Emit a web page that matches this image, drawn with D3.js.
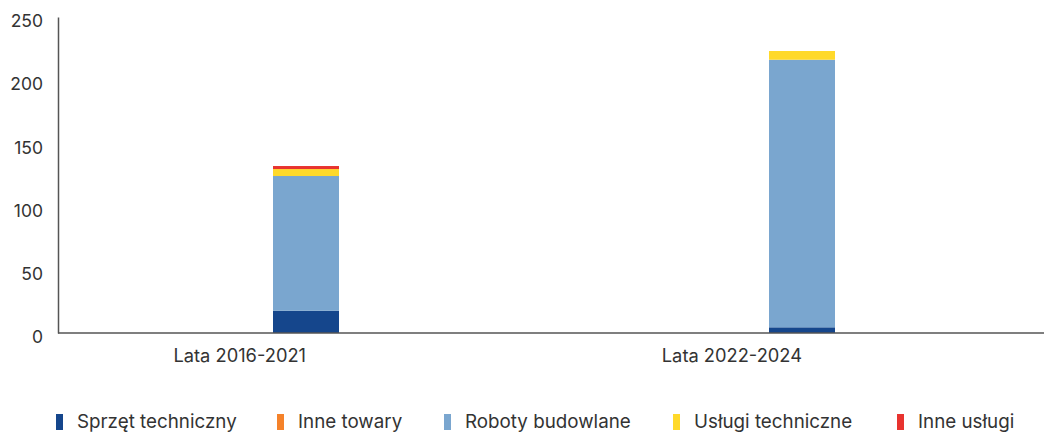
<!DOCTYPE html>
<html>
<head>
<meta charset="utf-8">
<script src="https://cdn.jsdelivr.net/npm/d3@7"></script>
<style>
  html, body { margin: 0; padding: 0; background: #fff; }
  svg { display: block; font-family: Inter, "Open Sans", sans-serif; }
</style>
</head>
<body>
<svg id="chart" width="1045" height="433"></svg>
<script>
// Categories (periods) and stacked series
const categories = ["Lata 2016-2021", "Lata 2022-2024"];
const seriesNames = ["Sprzęt techniczny", "Inne towary", "Roboty budowlane", "Usługi techniczne", "Inne usługi"];
const sprzetTechniczny = [17.6, 4.5];
const inneTowary = [0, 0];
const robotyBudowlane = [106.6, 211.7];
const uslugiTechniczne = [5.5, 6.9];
const inneUslugi = [2.4, 0];
const yTicks = [0, 50, 100, 150, 200, 250];
const colors = ["#15468c", "#f5822a", "#7aa6cf", "#ffd92a", "#e8332f"];

const values = [sprzetTechniczny, inneTowary, robotyBudowlane, uslugiTechniczne, inneUslugi];
const rows = categories.map((c, i) => {
  const r = { category: c };
  seriesNames.forEach((s, k) => r[s] = values[k][i]);
  return r;
});
const stacked = d3.stack().keys(seriesNames)(rows);

const svg = d3.select("#chart");
const plot = { left: 58, right: 1044, top: 17, bottom: 333 };

// Category bands span a little past the visible baseline on the right
const x = d3.scaleBand().domain(categories).range([plot.left, 1050]).paddingInner(0).paddingOuter(0);
const y = d3.scaleLinear().domain([0, 250]).range([plot.bottom, plot.top]);
const barW = 66;

// Bars
svg.append("g").selectAll("g")
  .data(stacked)
  .join("g")
  .attr("fill", (d, i) => colors[i])
  .selectAll("rect")
  .data(d => d)
  .join("rect")
  .attr("x", d => x(d.data.category) + x.bandwidth() / 2 - barW / 2)
  .attr("width", barW)
  .attr("y", d => y(d[1]))
  .attr("height", d => Math.max(0, y(d[0]) - y(d[1])));

// Y axis: line plus labels, no tick marks
const yAxis = d3.axisLeft(y).tickValues(yTicks).tickSize(0).tickPadding(15);
const gy = svg.append("g").attr("transform", `translate(${plot.left},0)`).call(yAxis);
gy.select(".domain").attr("stroke", "#555").attr("stroke-width", 1.5);
gy.selectAll("text")
  .attr("font-size", 17.5)
  .attr("fill", "#333")
  .attr("font-family", "Inter, sans-serif")
  .attr("dy", null).attr("y", 5).attr("dominant-baseline", "middle");

// X axis baseline
svg.append("line")
  .attr("x1", plot.left).attr("x2", plot.right)
  .attr("y1", plot.bottom).attr("y2", plot.bottom)
  .attr("stroke", "#555").attr("stroke-width", 1.5);

// Category labels, right-aligned at band centre
svg.append("g").selectAll("text")
  .data(categories)
  .join("text")
  .attr("x", d => x(d) + x.bandwidth() / 2)
  .attr("y", 362)
  .attr("text-anchor", "end")
  .attr("font-size", 18.3)
  .attr("fill", "#333")
  .text(d => d);

// Legend
const legendX = [56, 277, 444, 673, 897];
const legend = svg.append("g").selectAll("g")
  .data(seriesNames)
  .join("g")
  .attr("transform", (d, i) => `translate(${legendX[i]},414)`);
legend.append("rect").attr("width", 7).attr("height", 16).attr("fill", (d, i) => colors[i]);
legend.append("text")
  .attr("x", 21).attr("y", 14)
  .attr("font-size", 18.8)
  .attr("fill", "#333")
  .text(d => d);
</script>
</body>
</html>
